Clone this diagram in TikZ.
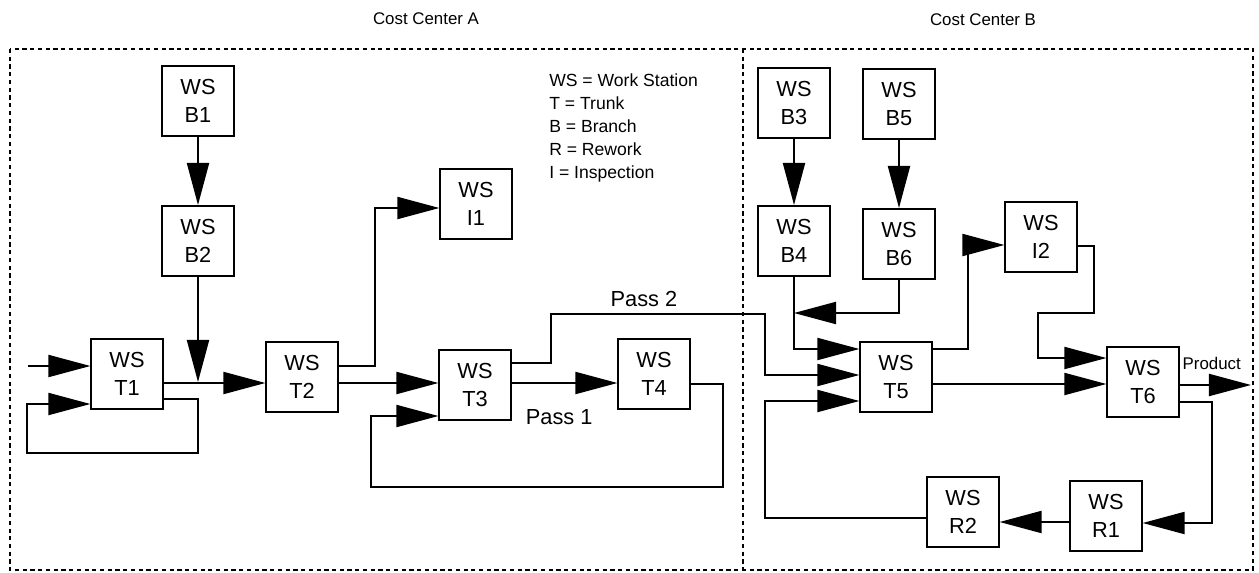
\documentclass[tikz,border=0pt]{standalone}
\usepackage{fontspec}
\setmainfont{Liberation Sans}
\usetikzlibrary{arrows.meta,calc}

\begin{document}
\begin{tikzpicture}[x=0.025cm, y=-0.025cm,
    ws/.style={draw, line width=1.4pt, minimum width=1.78cm, minimum height=1.75cm,
      inner sep=0pt, align=center, font=\fontsize{15.5}{20}\selectfont},
    flow/.style={line width=1.4pt, -{Triangle[length=1.05cm, width=0.55cm]}},
    frame/.style={line width=1.4pt, dash pattern=on 3pt off 2.5pt},
    lbl/.style={font=\fontsize{12}{14}\selectfont, inner sep=0pt}]
  \useasboundingbox (0,0) rectangle (1259,573);
  % the two cost centres
  \draw[frame] (10,49) rectangle (1253,570);
  \draw[frame] (743,49) -- (743,570);
  \node[lbl] (ccA) at (426,19) {Cost Center A};
  \node[lbl] (ccB) at (983,20) {Cost Center B};
  % legend
  \node[anchor=north west, align=left, inner sep=0pt,
    font=\fontsize{12.5}{16.5}\selectfont] (key) at (549,73)
    {WS = Work Station\\T = Trunk\\B = Branch\\R = Rework\\I = Inspection};
  % work stations, cost center A
  \node[ws] (B1) at (198,101) {WS\\B1};
  \node[ws] (B2) at (198,241) {WS\\B2};
  \node[ws] (T1) at (127,374) {WS\\T1};
  \node[ws] (T2) at (302,377) {WS\\T2};
  \node[ws] (I1) at (476,204) {WS\\I1};
  \node[ws] (T3) at (475,385) {WS\\T3};
  \node[ws] (T4) at (654,374) {WS\\T4};
  % work stations, cost center B
  \node[ws] (B3) at (794,103) {WS\\B3};
  \node[ws] (B4) at (794,241) {WS\\B4};
  \node[ws] (B5) at (899,104) {WS\\B5};
  \node[ws] (B6) at (899,244) {WS\\B6};
  \node[ws] (I2) at (1041,237) {WS\\I2};
  \node[ws] (T5) at (896,377) {WS\\T5};
  \node[ws] (T6) at (1143,382) {WS\\T6};
  \node[ws] (R2) at (963,512) {WS\\R2};
  \node[ws] (R1) at (1106,516) {WS\\R1};
  \coordinate (in) at (28,366);
  \coordinate (out) at (1251,385);
  % flows in A
  \draw[flow] (B1.south) -- (B2.north);
  \draw[flow] (B2.south) -- (B2.south |- 0,382);
  \draw[flow] (in) -- (T1.west |- in);
  \draw[flow] (T1.east |- 0,383) -- (T2.west |- 0,383);
  \draw[flow] (T1.east |- 0,399) -| (198,453) -| (27,404) -- (T1.west |- 0,404);
  \draw[flow] (T2.east |- 0,366) -| (375,208) -- (I1.west |- 0,208);
  \draw[flow] (T2.east |- 0,383) -- (T3.west |- 0,383);
  \draw[flow] (T3.east |- 0,383) -- (T4.west |- 0,383)
    node[pos=0.45, below=15pt, font=\fontsize{15.5}{18}\selectfont] (p1) {Pass 1};
  \draw[flow] (T4.east |- 0,384) -| (723,487) -| (371,416) -- (T3.west |- 0,416);
  \draw[flow] (T3.east |- 0,363) -| (551,314) -| (765,375) -- (T5.west |- 0,375);
  \node[font=\fontsize{15.5}{18}\selectfont] (p2) at (644,299) {Pass 2};
  % flows in B
  \draw[flow] (B3.south) -- (B4.north);
  \draw[flow] (B5.south) -- (B6.north);
  \draw[flow] (B4.south) |- (T5.west |- 0,349);
  \draw[flow] (B6.south) |- (B4.south |- 0,313);
  \draw[flow] (T5.east |- 0,349) -| (968,245) -- (I2.west |- 0,245);
  \draw[flow] (I2.east |- 0,246) -| (1094,313) -| (1038,358) -- (T6.west |- 0,358);
  \draw[flow] (T5.east |- 0,384) -- (T6.west |- 0,384);
  \draw[flow] (T6.east |- out) -- (out)
    node[pos=0.45, above=10pt, font=\fontsize{12}{14}\selectfont, inner sep=0pt] (prod) {Product};
  \draw[flow] (T6.east |- 0,402) -| (1212,523) -- (R1.east |- 0,523);
  \draw[flow] (R1.west |- 0,522) -- (R2.east |- 0,522);
  \draw[flow] (R2.west |- 0,518) -| (765,401) -- (T5.west |- 0,401);
\end{tikzpicture}
\end{document}
